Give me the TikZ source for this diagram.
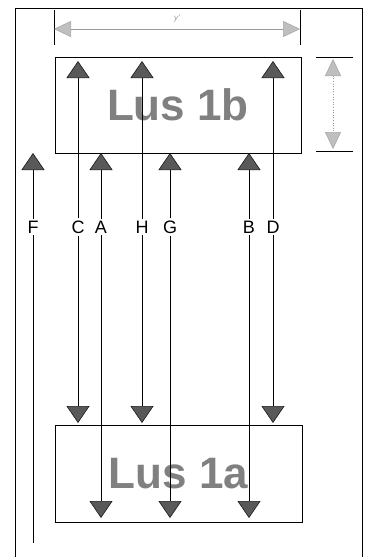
\documentclass[tikz,border=0pt]{standalone}
\usepackage{fontspec}
\setmainfont{Liberation Sans}
\usetikzlibrary{arrows.meta}

\tikzset{
  flow/.style={line width=0.6pt, -{Triangle[width=23pt,length=17pt,fill=black!65,color=black!90]}},
  dimline/.style={black!40, line width=0.6pt, {Triangle[width=16pt,length=17pt,fill=black!25,color=black!35]}-{Triangle[width=16pt,length=17pt,fill=black!25,color=black!35]}},
  lus/.style={draw, line width=0.6pt, inner sep=0pt, text=black!50, font=\fontsize{44}{46}\selectfont\bfseries},
  tag/.style={font=\fontsize{18}{20}\selectfont, inner sep=2pt}
}

\begin{document}
\begin{tikzpicture}[x=1pt,y=-1pt]
		\useasboundingbox (0,0) rectangle (366,557);
		% frame
		\draw[line width=0.6pt] (15,557) -- (15,8) -- (362,8) -- (362,557);
		% boxes
		\node[lus, minimum width=246pt, minimum height=96pt] (lusb) at (178,105) {Lus 1b};
		\node[lus, minimum width=247pt, minimum height=97pt] (lusa) at (178.5,473.5) {Lus 1a};
		% width dimension
		\coordinate (W1) at (54,29);
		\coordinate (W2) at (300,29);
		\draw[line width=0.6pt] (54,10) -- (54,45) (300,10) -- (300,45);
		\draw[dimline] (W1) -- (W2);
		\node[text=black!40, font=\fontsize{8}{9}\selectfont\itshape] at (177,19) {y'};
		% height dimension
		\coordinate (H1) at (333,59);
		\coordinate (H2) at (333,149);
		\draw[line width=0.6pt] (316,57) -- (353,57) (316,151) -- (353,151);
		\draw[dimline, dotted] (H1) -- (H2);
		% arrows through both loops
		\foreach \n/\x in {C/78,H/142,D/273}{
			\node[tag] (\n) at (\x,227) {\n};
			\coordinate (\n top) at (\x,61);
			\coordinate (\n bot) at (\x,423);
			\draw[flow] (\n) -- (\n top);
			\draw[flow] (\n) -- (\n bot);
		}
		% arrows into loop 1a
		\foreach \n/\x in {A/101,G/170,B/249}{
			\node[tag] (\n) at (\x,227) {\n};
			\coordinate (\n top) at (\x,153);
			\coordinate (\n bot) at (\x,518);
			\draw[flow] (\n) -- (\n top);
			\draw[flow] (\n) -- (\n bot);
		}
		% outer arrow
		\node[tag] (F) at (33,227) {F};
		\coordinate (F top) at (33,153);
		\coordinate (F bot) at (33,543);
		\draw[flow] (F) -- (F top);
		\draw[line width=0.6pt] (F) -- (F bot);
	\end{tikzpicture}
\end{document}
